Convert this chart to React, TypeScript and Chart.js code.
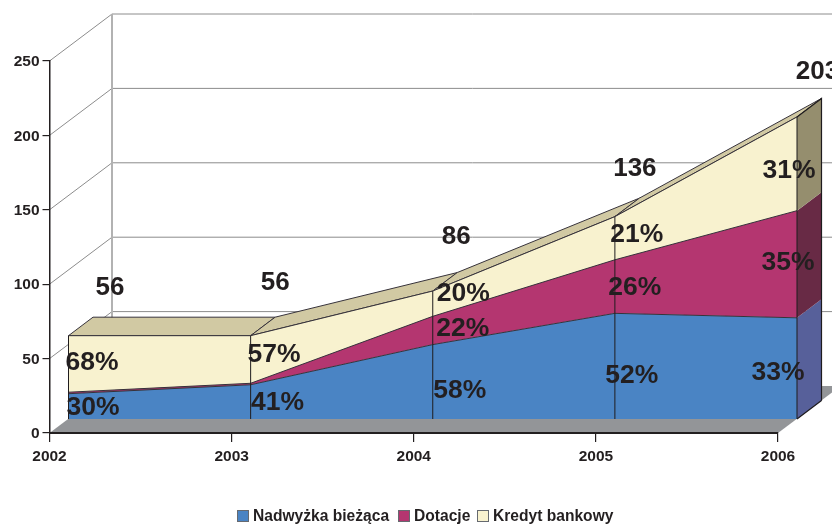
import React, { useEffect, useRef } from "react";
import { Chart, registerables } from "chart.js";

Chart.register(...registerables);

const years = ["2002", "2003", "2004", "2005", "2006"];
const nadwyzka = [17, 23, 50, 71, 68];
const dotacje = [1, 1, 19, 36, 72];
const kredyt = [38, 32, 17, 29, 63];
const totals = [56, 56, 86, 136, 203];
const pctNadwyzka = [30, 41, 58, 52, 33];
const pctDotacje = [null, null, 22, 26, 35];
const pctKredyt = [68, 57, 20, 21, 31];

const W = 832;
const H = 524;
const FONT = '"Liberation Sans", Arial, sans-serif';
const TEXT = "#231f20";
const EDGE = "#36323a";
const front = { x: 19, y: -14 };
const depth = { x: 24.5, y: -18.5 };
const wall = { x: 62.5, y: -47 };
const sideColors = ["#57609a", "#682a45", "#958e6e"];
const topColor = "#d1c9a3";

// label placement relative to the band centre at each category
const pctOffsets = [
  [[24.5, 1], [27, 1], [27, 9], [17, 10], [-19, 4]],
  [[0, 0], [0, 0], [30, -1.5], [20, 1], [-9, -2]],
  [[23.5, -1], [23.5, -4.5], [30.5, -9.7], [22, -4], [-8, 7]],
];
const totalOffsets = [[41.5, -47.7], [24.5, -52.7], [23.5, -54], [20, -47.6], [20.5, -45.5]];
const legendLayout = { y: 516, box: 12, gap: 4, xs: [237, 398, 477] };

function poly(ctx: CanvasRenderingContext2D, pts: number[][], fill: string | null, stroke: string | null) {
  ctx.beginPath();
  pts.forEach((p, i) => (i ? ctx.lineTo(p[0], p[1]) : ctx.moveTo(p[0], p[1])));
  ctx.closePath();
  if (fill) {
    ctx.fillStyle = fill;
    ctx.fill();
  }
  if (stroke) {
    ctx.strokeStyle = stroke;
    ctx.lineWidth = 1;
    ctx.stroke();
  }
}

const scene3d = {
  id: "scene3d",
  beforeDraw(chart: any) {
    const { ctx, scales } = chart;
    const x = scales.x;
    const y = scales.y;
    const left = x.left;
    const right = x.right;
    ctx.save();
    ctx.lineWidth = 1;
    ctx.strokeStyle = "#8c8c8c";
    y.ticks.forEach((t: any) => {
      const py = y.getPixelForValue(t.value);
      if (t.value === 0) return;
      ctx.beginPath();
      ctx.moveTo(left, py);
      ctx.lineTo(left + wall.x, py + wall.y);
      ctx.lineTo(W + 10, py + wall.y);
      ctx.stroke();
    });
    ctx.strokeStyle = "#b2b2b2";
    ctx.lineWidth = 2;
    ctx.beginPath();
    ctx.moveTo(left + wall.x, y.getPixelForValue(250) + wall.y);
    ctx.lineTo(left + wall.x, y.getPixelForValue(0) + wall.y);
    ctx.stroke();
    const py0 = y.getPixelForValue(0);
    poly(
      ctx,
      [
        [left, py0],
        [right, py0],
        [right + wall.x, py0 + wall.y],
        [left + wall.x, py0 + wall.y],
      ],
      "#939598",
      null
    );
    ctx.restore();
  },
  beforeDatasetsDraw(chart: any) {
    const { ctx } = chart;
    const metas = [0, 1, 2].map((i) => chart.getDatasetMeta(i).data);
    const n = years.length;
    const f = (p: any) => [p.x + front.x, p.y + front.y];
    const b = (p: any) => [p.x + front.x + depth.x, p.y + front.y + depth.y];
    ctx.save();
    for (let j = 0; j < n - 1; j++) {
      const p = metas[2][j];
      const q = metas[2][j + 1];
      poly(ctx, [f(p), f(q), b(q), b(p)], topColor, EDGE);
    }
    const baseY = chart.scales.y.getPixelForValue(0) + front.y;
    const lastX = chart.scales.x.getPixelForValue(n - 1) + front.x;
    let prevF = [lastX, baseY];
    let prevB = [lastX + depth.x, baseY + depth.y];
    metas.forEach((m, i) => {
      const cf = f(m[n - 1]);
      const cb = b(m[n - 1]);
      poly(ctx, [prevF, cf, cb, prevB], sideColors[i], null);
      prevF = cf;
      prevB = cb;
    });
    ctx.strokeStyle = "#1f1c1e";
    ctx.lineWidth = 1.2;
    ctx.beginPath();
    ctx.moveTo(lastX + depth.x, baseY + depth.y);
    ctx.lineTo(prevB[0], prevB[1]);
    ctx.lineTo(prevF[0], prevF[1]);
    ctx.moveTo(lastX, baseY);
    ctx.lineTo(lastX + depth.x, baseY + depth.y);
    ctx.stroke();
    ctx.restore();
    ctx.save();
    ctx.translate(front.x, front.y);
  },
  afterDatasetsDraw(chart: any) {
    const { ctx, scales } = chart;
    ctx.restore();
    const top = chart.getDatasetMeta(2).data;
    const py0 = scales.y.getPixelForValue(0) + front.y;
    ctx.save();
    ctx.strokeStyle = "#1f1c1e";
    ctx.lineWidth = 1;
    top.forEach((p: any) => {
      ctx.beginPath();
      ctx.moveTo(p.x + front.x, py0);
      ctx.lineTo(p.x + front.x, p.y + front.y);
      ctx.stroke();
    });
    ctx.restore();
  },
  afterDraw(chart: any) {
    const { ctx, scales } = chart;
    const pct = [pctNadwyzka, pctDotacje, pctKredyt];
    ctx.save();
    ctx.fillStyle = TEXT;
    ctx.textAlign = "center";
    ctx.textBaseline = "middle";
    ctx.font = `bold 26.5px ${FONT}`;
    pct.forEach((arr, i) => {
      const meta = chart.getDatasetMeta(i).data;
      arr.forEach((v, j) => {
        if (v === null) return;
        const px = meta[j].x + front.x + pctOffsets[i][j][0];
        const yTop = meta[j].y;
        const yBase = i === 0 ? scales.y.getPixelForValue(0) : chart.getDatasetMeta(i - 1).data[j].y;
        const py = (yTop + yBase) / 2 + front.y + pctOffsets[i][j][1];
        ctx.fillText(`${v}%`, px, py);
      });
    });
    ctx.font = `bold 26px ${FONT}`;
    totals.forEach((v, j) => {
      const p = chart.getDatasetMeta(2).data[j];
      ctx.fillText(String(v), p.x + front.x + totalOffsets[j][0], p.y + front.y + totalOffsets[j][1]);
    });
    ctx.font = `bold 15.6px ${FONT}`;
    ctx.textAlign = "left";
    chart.data.datasets.forEach((d: any, i: number) => {
      const lx = legendLayout.xs[i];
      ctx.fillStyle = d.backgroundColor;
      ctx.fillRect(lx, legendLayout.y - 6, legendLayout.box, legendLayout.box);
      ctx.strokeStyle = "#666a70";
      ctx.lineWidth = 1;
      ctx.strokeRect(lx + 0.5, legendLayout.y - 5.5, legendLayout.box - 1, legendLayout.box - 1);
      ctx.fillStyle = TEXT;
      ctx.fillText(d.label, lx + legendLayout.box + legendLayout.gap, legendLayout.y + 1);
    });
    ctx.restore();
  },
};

export default function App() {
  const ref = useRef<HTMLCanvasElement>(null);
  useEffect(() => {
    const series = [
      { label: "Nadwyżka bieżąca", data: nadwyzka, backgroundColor: "#4a84c4", fill: "origin" },
      { label: "Dotacje", data: dotacje, backgroundColor: "#b43670", fill: "-1" },
      { label: "Kredyt bankowy", data: kredyt, backgroundColor: "#f8f2cf", fill: "-1" },
    ];
    const tickFont = { family: FONT, size: 15.5, weight: "bold" as const };
    const chart = new Chart(ref.current!, {
      type: "line",
      data: {
        labels: years,
        datasets: series.map((s) => ({
          ...s,
          borderColor: EDGE,
          borderWidth: 1,
          pointRadius: 0,
          tension: 0,
          clip: false as any,
        })),
      },
      options: {
        animation: false,
        responsive: false,
        layout: { padding: { left: 0, top: 61, right: 54, bottom: 0 } },
        plugins: { legend: { display: false }, tooltip: { enabled: false } },
        scales: {
          x: {
            type: "category",
            offset: false,
            grid: { drawOnChartArea: false, drawTicks: true, tickLength: 9, color: "#231f20", lineWidth: 1.2 },
            border: { display: true, color: "#231f20", width: 2 },
            ticks: { font: tickFont, color: TEXT, padding: 5, autoSkip: false, maxRotation: 0 },
            afterFit: (s: any) => {
              s.height = 91;
            },
          },
          y: {
            type: "linear",
            stacked: true,
            min: 0,
            max: 250,
            grid: { drawOnChartArea: false, drawTicks: true, tickLength: 7, color: "#231f20", lineWidth: 1.2 },
            border: { display: true, color: "#231f20", width: 1.5 },
            ticks: { font: tickFont, color: TEXT, padding: 3, stepSize: 50, labelOffset: 1 },
            afterFit: (s: any) => {
              s.width = 49.5;
            },
          },
        },
      },
      plugins: [scene3d as any],
    });
    return () => chart.destroy();
  }, []);
  return (
    <div style={{ position: "absolute", left: 0, top: 0, width: W, height: H, overflow: "hidden", background: "#fff" }}>
      <canvas ref={ref} width={W} height={H} style={{ display: "block" }} />
    </div>
  );
}
